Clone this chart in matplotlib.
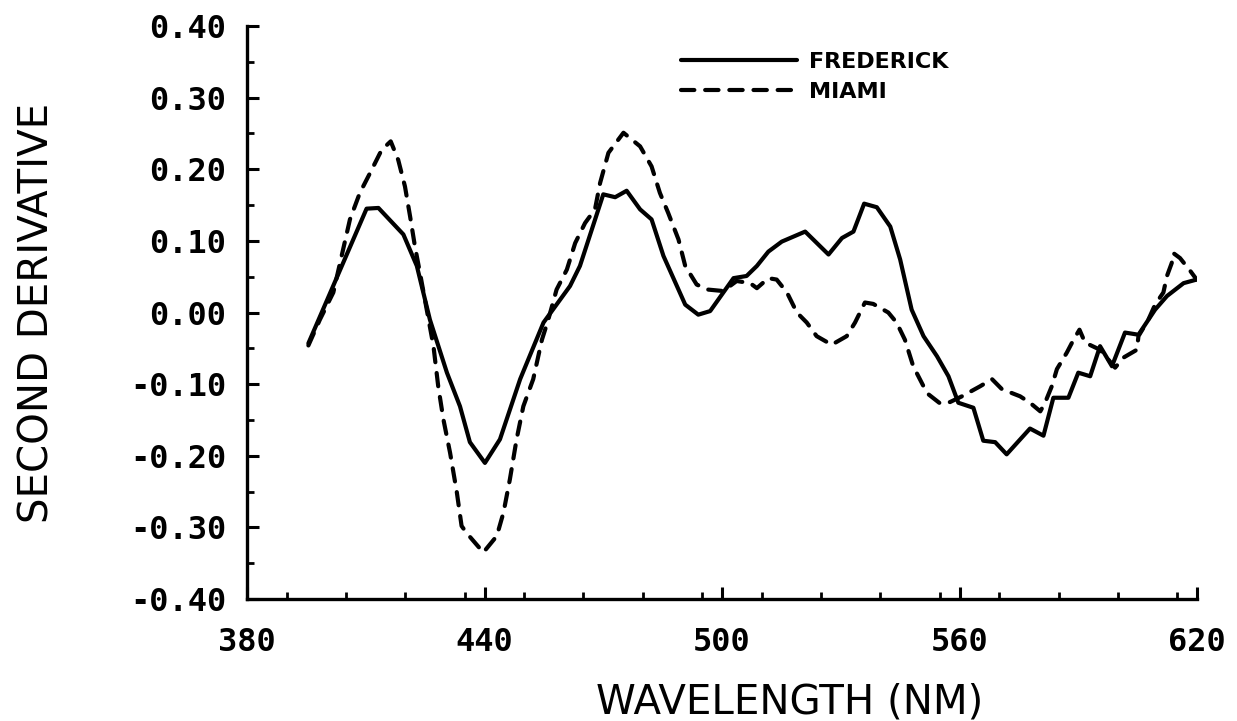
import matplotlib
matplotlib.use("Agg")
import matplotlib.pyplot as plt
from matplotlib.ticker import MultipleLocator, FixedLocator

# Second-derivative spectra, wavelength in nm
frederick_nm = [395.5, 410.2, 413.2, 419.5, 422.9, 426.2, 430.5, 433.8, 436.3, 440.1,
                443.9, 449.0, 454.9, 461.6, 464.1, 470.0, 473.0, 475.9, 479.3, 482.2,
                485.2, 490.7, 494.0, 497.0, 502.9, 506.2, 508.8, 511.7, 515.1, 521.0,
                526.9, 530.3, 533.2, 535.9, 539.1, 542.5, 545.0, 547.9, 550.9, 554.3,
                557.2, 559.7, 563.5, 566.0, 569.0, 571.9, 577.8, 581.2, 583.7, 587.5,
                590.0, 593.0, 595.5, 598.5, 601.8, 605.2, 609.4, 612.4, 616.6, 619.9]
frederick_d2 = [-0.043, 0.145, 0.146, 0.109, 0.065, -0.010, -0.084, -0.131, -0.181, -0.210,
                -0.177, -0.093, -0.014, 0.037, 0.065, 0.165, 0.161, 0.170, 0.144, 0.130,
                0.079, 0.011, -0.003, 0.002, 0.048, 0.051, 0.065, 0.085, 0.099, 0.113,
                0.081, 0.104, 0.113, 0.152, 0.147, 0.120, 0.074, 0.004, -0.033, -0.061,
                -0.089, -0.126, -0.133, -0.179, -0.181, -0.198, -0.162, -0.172, -0.119, -0.119,
                -0.084, -0.089, -0.047, -0.075, -0.028, -0.031, 0.004, 0.023, 0.041, 0.046]

miami_nm = [395.5, 398.4, 401.8, 403.9, 406.0, 408.5, 411.1, 414.0, 416.3, 418.2,
            419.9, 421.2, 422.4, 423.7, 425.4, 427.1, 428.3, 429.6, 431.3, 433.0,
            434.2, 435.5, 439.7, 443.1, 444.8, 446.4, 448.1, 449.8, 452.3, 454.5,
            456.1, 458.2, 460.8, 462.9, 465.4, 467.9, 469.2, 471.3, 475.1, 479.3,
            482.2, 484.3, 486.4, 489.0, 490.7, 493.6, 496.5, 500.3, 503.7, 507.1,
            508.8, 511.7, 513.8, 516.4, 518.9, 521.4, 523.9, 527.7, 531.5, 533.6,
            536.1, 538.2, 542.0, 544.1, 546.2, 548.3, 550.9, 552.1, 555.1, 557.6,
            560.6, 565.2, 568.2, 570.7, 575.3, 577.8, 580.4, 581.6, 583.3, 584.6,
            587.1, 588.8, 590.3, 591.7, 595.5, 599.3, 601.4, 604.8, 605.2, 607.7,
            609.4, 611.5, 612.4, 613.6, 614.0, 615.7, 618.3, 619.9]
miami_d2 = [-0.046, -0.010, 0.028, 0.079, 0.130, 0.167, 0.195, 0.227, 0.239, 0.213,
            0.176, 0.134, 0.093, 0.055, 0.004, -0.047, -0.103, -0.149, -0.196, -0.251,
            -0.298, -0.308, -0.335, -0.312, -0.279, -0.233, -0.177, -0.131, -0.093, -0.038,
            -0.010, 0.032, 0.060, 0.097, 0.125, 0.144, 0.181, 0.223, 0.251, 0.232,
            0.204, 0.167, 0.139, 0.102, 0.065, 0.039, 0.032, 0.030, 0.044, 0.041,
            0.034, 0.048, 0.046, 0.028, 0.000, -0.014, -0.033, -0.045, -0.033, -0.014,
            0.014, 0.012, 0.000, -0.014, -0.038, -0.075, -0.103, -0.114, -0.127, -0.125,
            -0.117, -0.103, -0.093, -0.107, -0.117, -0.126, -0.138, -0.126, -0.103, -0.079,
            -0.056, -0.038, -0.024, -0.042, -0.052, -0.077, -0.063, -0.052, -0.033, -0.010,
            0.011, 0.028, 0.051, 0.069, 0.083, 0.076, 0.058, 0.046]

x_ticks = [380, 440, 500, 560, 620]
y_ticks = [-0.4, -0.3, -0.2, -0.1, 0.0, 0.1, 0.2, 0.3, 0.4]
y_labels = ["-0.40", "-0.30", "-0.20", "-0.10", "0.00", "0.10", "0.20", "0.30", "0.40"]

tick_font = dict(family="DejaVu Sans Mono", weight="bold", size=23)
label_font = dict(family="DejaVu Sans", size=29)

fig = plt.figure(figsize=(12.37, 7.21), dpi=100)
ax = fig.add_axes([0.1997, 0.1692, 0.768, 0.7947])

ax.plot(frederick_nm, frederick_d2, color="black", lw=3.0,
        solid_joinstyle="round", solid_capstyle="round", label="FREDERICK")
ax.plot(miami_nm, miami_d2, color="black", lw=3.0, dashes=(3.2, 2.6),
        dash_capstyle="round", label="MIAMI")

ax.set_xlim(380, 620)
ax.set_ylim(-0.4, 0.4)
for side in ("top", "right"):
    ax.spines[side].set_visible(False)
for side in ("left", "bottom"):
    ax.spines[side].set_linewidth(2.4)

ax.xaxis.set_major_locator(FixedLocator(x_ticks))
ax.xaxis.set_minor_locator(MultipleLocator(15))
ax.yaxis.set_major_locator(FixedLocator(y_ticks))
ax.yaxis.set_minor_locator(MultipleLocator(0.05))
ax.set_xticklabels([str(v) for v in x_ticks], fontdict=tick_font)
ax.set_yticklabels(y_labels, fontdict=tick_font)
ax.tick_params(which="major", direction="in", length=8.5, width=2.2, pad=15)
ax.tick_params(which="minor", direction="in", length=5, width=2.0)
ax.tick_params(axis="x", which="major", pad=20)

ax.set_xlabel("WAVELENGTH (NM)", fontdict=label_font)
ax.xaxis.set_label_coords(0.5716, -0.145)
ax.set_ylabel("SECOND DERIVATIVE", fontdict=label_font)
ax.yaxis.set_label_coords(-0.200, 0.5)

ax.legend(loc="upper left", bbox_to_anchor=(0.436, 0.99), frameon=False,
          handlelength=5.2, handletextpad=0.55, labelspacing=0.45,
          prop=dict(family="DejaVu Sans", weight="bold", size=16))

fig.savefig("out.png", dpi=100, facecolor="white")
